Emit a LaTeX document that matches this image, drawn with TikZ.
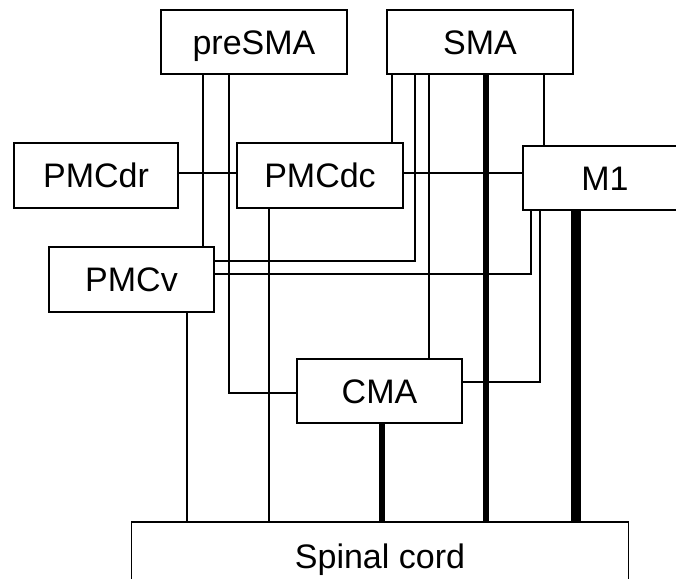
\documentclass[tikz,border=0pt]{standalone}
\usepackage{fontspec}
\setmainfont{Liberation Sans}
\begin{document}
\begin{tikzpicture}[x=0.75pt,y=-0.75pt,
  box/.style={draw,line width=1.1pt,inner sep=0pt,text height=18.2pt,text depth=0pt,font=\fontsize{25.5}{30}\selectfont},
  conn/.style={line width=0.9pt},
  heavy/.style={line width=4.5pt,line cap=butt},
  heavier/.style={line width=7.5pt,line cap=butt}]
\useasboundingbox (0,0) rectangle (676,579);
\clip (0,0) rectangle (676,579);
% boxes
\node[box,minimum width=186*0.75pt,minimum height=64*0.75pt] (preSMA) at (254,42) {preSMA};
\node[box,minimum width=186*0.75pt,minimum height=64*0.75pt] (SMA) at (480,42) {SMA};
\node[box,minimum width=164*0.75pt,minimum height=65*0.75pt] (PMCdr) at (96,175.5) {PMCdr};
\node[box,minimum width=166*0.75pt,minimum height=65*0.75pt] (PMCdc) at (320,175.5) {PMCdc};
\node[box,minimum width=164*0.75pt,minimum height=64*0.75pt] (M1) at (605,178) {M1};
\node[box,minimum width=165*0.75pt,minimum height=65*0.75pt] (PMCv) at (131.5,279.5) {PMCv};
\node[box,minimum width=165*0.75pt,minimum height=64*0.75pt] (CMA) at (379.5,391) {CMA};
\node[box,minimum width=497*0.75pt,minimum height=68*0.75pt] (SC) at (380,556) {Spinal cord};
% columns and rows
\coordinate (c187) at (187,0);
\coordinate (c203) at (203,0);
\coordinate (c229) at (229,0);
\coordinate (c269) at (269,0);
\coordinate (c382) at (382,0);
\coordinate (c392) at (392,0);
\coordinate (c415) at (415,0);
\coordinate (c429) at (429,0);
\coordinate (c486) at (486,0);
\coordinate (c531) at (531,0);
\coordinate (c540) at (540,0);
\coordinate (c544) at (544,0);
\coordinate (c576) at (576,0);
\coordinate (r173) at (0,173);
\coordinate (r261) at (0,261);
\coordinate (r274) at (0,274);
\coordinate (r382) at (0,382);
\coordinate (r393) at (0,393);
% connectors
\draw[conn] (preSMA.south -| c203) -- (PMCv.north -| c203);
\draw[conn] (preSMA.south -| c229) -- (c229 |- r393) -- (CMA.west |- r393);
\draw[conn] (PMCdr.east |- r173) -- (PMCdc.west |- r173);
\draw[conn] (PMCdc.east |- r173) -- (M1.west |- r173);
\draw[conn] (SMA.south -| c392) -- (PMCdc.north -| c392);
\draw[conn] (SMA.south -| c415) -- (c415 |- r261) -- (PMCv.east |- r261);
\draw[conn] (SMA.south -| c429) -- (CMA.north -| c429);
\draw[conn] (SMA.south -| c544) -- (M1.north -| c544);
\draw[conn] (M1.south -| c531) -- (c531 |- r274) -- (PMCv.east |- r274);
\draw[conn] (M1.south -| c540) -- (c540 |- r382) -- (CMA.east |- r382);
\draw[conn] (PMCv.south -| c187) -- (SC.north -| c187);
\draw[conn] (PMCdc.south -| c269) -- (SC.north -| c269);
\draw[heavy] (SMA.south -| c486) -- (SC.north -| c486);
\draw[heavy] (CMA.south -| c382) -- (SC.north -| c382);
\draw[heavier] (M1.south -| c576) -- (SC.north -| c576);
\end{tikzpicture}
\end{document}
